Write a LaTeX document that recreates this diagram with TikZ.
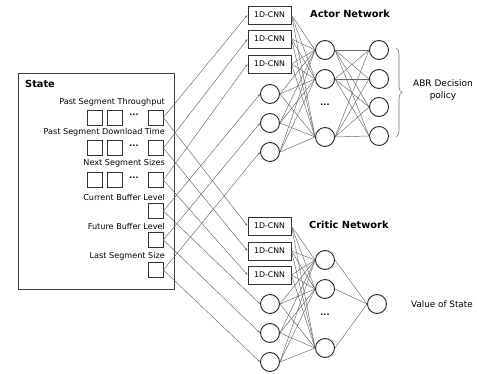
\documentclass[tikz,border=0pt]{standalone}
\usepackage{fontspec}
\setmainfont{DejaVu Sans}
\usetikzlibrary{positioning,calc,arrows.meta,decorations.pathreplacing}

\tikzset{
  neuron/.style={circle,draw=black!85,line width=0.9pt,minimum size=19pt,inner sep=0pt},
  cnnbox/.style={draw=black!80,line width=0.9pt,minimum width=43pt,minimum height=18pt,inner sep=0pt,font=\fontsize{7.8}{8}\selectfont},
  cell/.style={draw=black!80,line width=0.8pt,minimum size=15pt,inner sep=0pt},
  statetext/.style={anchor=east,inner sep=0pt,font=\fontsize{8.1}{9}\selectfont},
  title/.style={anchor=west,inner sep=0pt,font=\fontsize{9.8}{10}\selectfont\bfseries},
  link/.style={draw=black!60,line width=0.45pt},
  feed/.style={link,-{Latex[length=2.5pt,width=2pt]}},
  dotsnode/.style={inner sep=0pt,font=\fontsize{8}{8}\selectfont\bfseries}
}

\begin{document}
\begin{tikzpicture}[x=1pt,y=-1pt]
\useasboundingbox (0,0) rectangle (477,374);

% State box with its inputs
\node[draw=black!75,line width=0.8pt,minimum width=156pt,minimum height=216pt,anchor=north west,inner sep=0pt] (state) at (18,73) {};
\node[title] (statetitle) at (25,84) {State};

\node[statetext] (t1) at (165,102) {Past Segment Throughput};
\node[statetext] (t2) at (165,132) {Past Segment Download Time};
\node[statetext] (t3) at (165,163) {Next Segment Sizes};
\node[statetext] (t4) at (165,197) {Current Buffer Level};
\node[statetext] (t5) at (165,226) {Future Buffer Level};
\node[statetext] (t6) at (165,256) {Last Segment Size};

% rows of squares
\foreach \i/\y in {1/117.5,2/148,3/180}{
  \node[cell] (sqa\i) at (94.5,\y) {};
  \node[cell] (sqb\i) at (114.5,\y) {};
  \node[dotsnode] (sqd\i) at (134,\y-2.5) {...};
}
\foreach \i/\y in {1/117.5,2/148,3/180,4/211,5/240,6/270}
  \node[cell] (sq\i) at (155.5,\y) {};

% Actor Network
\node[title] (actortitle) at (310,14) {Actor Network};
\foreach \i/\y in {1/15,2/39,3/64}
  \node[cnnbox] (ain\i) at (269.5,\y) {1D-CNN};
\foreach \i/\y in {4/94,5/123,6/152}
  \node[neuron] (ain\i) at (270,\y) {};
\foreach \i/\y in {1/50,2/79,3/137}
  \node[neuron] (ah\i) at (325,\y) {};
\node[dotsnode] (adots) at (325,105) {...};
\foreach \i/\y in {1/50,2/79,3/107,4/136}
  \node[neuron] (ao\i) at (379,\y) {};

% Critic Network
\node[title] (critictitle) at (309,225) {Critic Network};
\foreach \i/\y in {1/226,2/251,3/275}
  \node[cnnbox] (cin\i) at (269.5,\y) {1D-CNN};
\foreach \i/\y in {4/304,5/333,6/362}
  \node[neuron] (cin\i) at (270,\y) {};
\foreach \i/\y in {1/260,2/289,3/348}
  \node[neuron] (ch\i) at (325,\y) {};
\node[dotsnode] (cdots) at (325,315) {...};
\node[neuron] (co) at (377,304) {};

% state to both networks
\foreach \i in {1,...,6}{
  \draw[feed] (sq\i.east) -- (ain\i.west);
  \draw[feed] (sq\i.east) -- (cin\i.west);
}

% fully connected layers
\foreach \i in {1,...,6}
  \foreach \j in {1,2,3}{
    \draw[link] (ain\i.east) -- (ah\j.west);
    \draw[link] (cin\i.east) -- (ch\j.west);
  }
\foreach \j in {1,2,3}{
  \foreach \k in {1,...,4}
    \draw[link] (ah\j.east) -- (ao\k.west);
  \draw[link] (ch\j.east) -- (co.west);
}

% outputs
\coordinate (bracetop) at (396,48);
\coordinate (bracebot) at (396,137);
\draw[black!55,line width=0.6pt,decorate,decoration={brace,amplitude=6pt}] (bracetop) -- (bracebot);
\node[align=center,inner sep=0pt,font=\fontsize{9}{12}\selectfont] (abr) at (443,90) {ABR Decision\\policy};
\node[anchor=west,inner sep=0pt,font=\fontsize{8.8}{10}\selectfont] (vos) at (411,304) {Value of State};
\end{tikzpicture}
\end{document}
